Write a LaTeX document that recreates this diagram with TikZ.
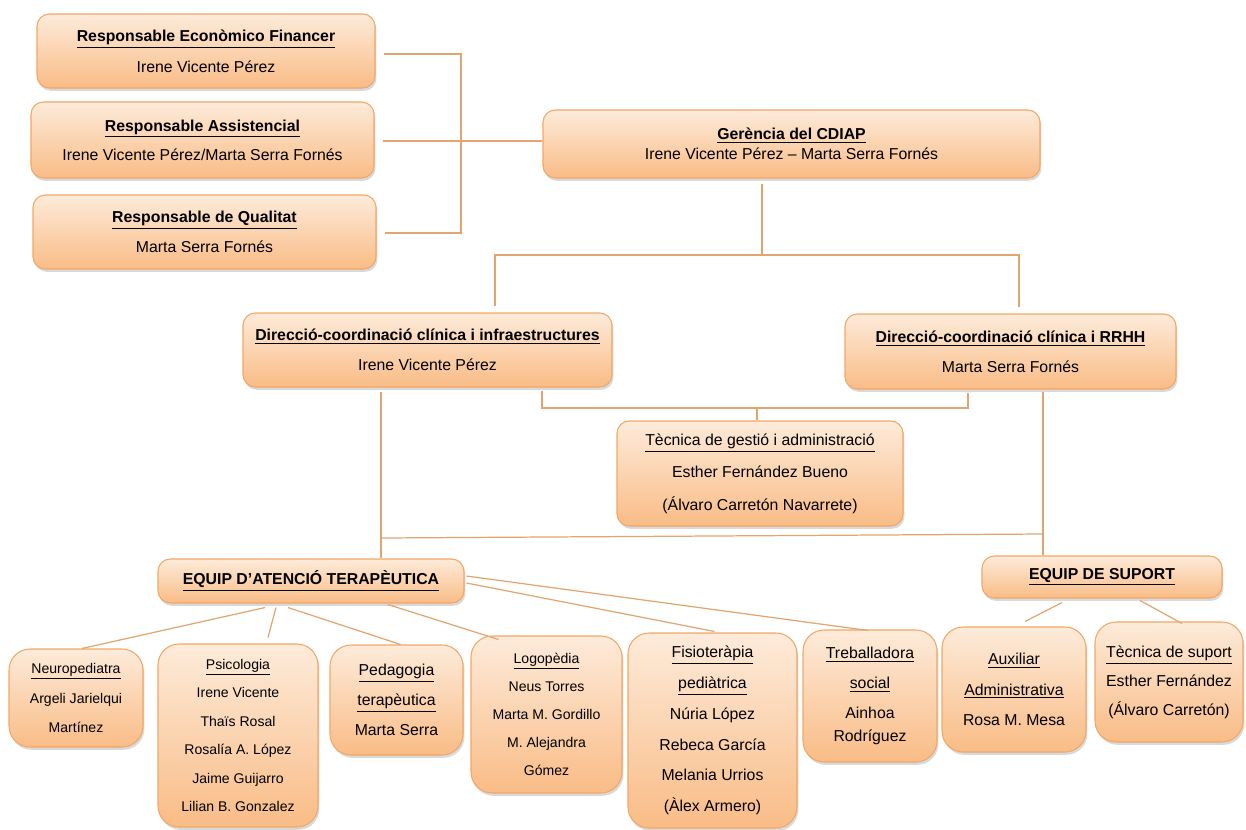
\documentclass[tikz,border=0pt]{standalone}
\usepackage{fontspec}
\setmainfont{Liberation Sans}
\usetikzlibrary{calc,shadows}
\definecolor{boxtop}{HTML}{FDEBDA}
\definecolor{boxbot}{HTML}{F9BC86}
\definecolor{boxline}{HTML}{F2A766}
\definecolor{linkcol}{HTML}{E2A570}
\newcommand{\hd}[1]{\underline{#1}}
\newcommand{\bhd}[1]{\textbf{\underline{#1}}}
\tikzset{
  orgbox/.style={draw=boxline, line width=0.6pt, top color=boxtop, bottom color=boxbot,
    rounded corners=7pt, align=center, inner sep=0pt,
    drop shadow={shadow xshift=0.8pt, shadow yshift=-1.6pt, opacity=0.3}},
  roundbox/.style={orgbox, rounded corners=12pt},
  wh/.style 2 args={minimum width=#1*0.02cm, minimum height=#2*0.02cm},
  big/.style={font=\fontsize{9}{17}\selectfont},
  small/.style={font=\fontsize{8}{16}\selectfont},
  link/.style={draw=linkcol, line width=0.7pt},
}
\begin{document}
\begin{tikzpicture}[x=0.02cm, y=-0.02cm]
            \useasboundingbox (0,0) rectangle (1246,829);
            % Responsables on the left
            \node [orgbox, wh={338}{74}, font=\fontsize{9}{17.6}\selectfont] (ResEco) at (206,51)
              {\bhd{Responsable Econòmico Financer}\\Irene Vicente Pérez};
            \node [orgbox, wh={343}{76}, font=\fontsize{9}{16.6}\selectfont] (ResAss) at (202.5,140)
              {\bhd{Responsable Assistencial}\\Irene Vicente Pérez/Marta Serra Fornés};
            \node [orgbox, wh={343}{74}, big] (ResQual) at (204.5,232)
              {\bhd{Responsable de Qualitat}\\Marta Serra Fornés};
            % Gerència and the two directions
            \node [orgbox, wh={497}{68}, font=\fontsize{9}{11.5}\selectfont] (Ger) at (791.5,144)
              {\bhd{Gerència del CDIAP}\\Irene Vicente Pérez – Marta Serra Fornés};
            \node [orgbox, wh={369}{74}, big] (DirInfra) at (427.5,350)
              {\bhd{Direcció-coordinació clínica i infraestructures}\\Irene Vicente Pérez};
            \node [orgbox, wh={331}{75}, big] (DirRRHH) at (1010.5,351.5)
              {\bhd{Direcció-coordinació clínica i RRHH}\\Marta Serra Fornés};
            \node [orgbox, wh={286}{105}, font=\fontsize{9}{18.5}\selectfont] (TecGest) at (760,473.5)
              {\hd{Tècnica de gestió i administració}\\Esther Fernández Bueno\\(Álvaro Carretón Navarrete)};
            % The two teams
            \node [orgbox, wh={306}{44}, big] (EqAT) at (311,581) {\bhd{EQUIP D’ATENCIÓ TERAPÈUTICA}};
            \node [orgbox, wh={240}{42}, big] (EqSup) at (1102,577) {\bhd{EQUIP DE SUPORT}};
            % Members of the teams
            \node [roundbox, wh={134}{98}, font=\fontsize{8}{17}\selectfont] (Neuro) at (76,698)
              {\hd{Neuropediatra}\\Argeli Jarielqui\\Martínez};
            \node [roundbox, wh={160}{183}, font=\fontsize{8}{16.2}\selectfont] (Psico) at (238,735.5)
              {\hd{Psicologia}\\Irene Vicente\\Thaïs Rosal\\Rosalía A. López\\Jaime Guijarro\\Lilian B. Gonzalez};
            \node [roundbox, wh={133}{110}, big] (Peda) at (396.5,700)
              {\hd{Pedagogia}\\\hd{terapèutica}\\Marta Serra};
            \node [roundbox, wh={151}{157}, small] (Logo) at (546.5,714.5)
              {\hd{Logopèdia}\\Neus Torres\\Marta M. Gordillo\\M. Alejandra\\Gómez};
            \node [roundbox, wh={169}{195}, font=\fontsize{9}{17.5}\selectfont] (Fisio) at (712.5,730.5)
              {\hd{Fisioteràpia}\\\hd{pediàtrica}\\Núria López\\Rebeca García\\Melania Urrios\\(Àlex Armero)};
            \node [roundbox, wh={134}{132}, big] (Treb) at (870,696)
              {\hd{Treballadora}\\\hd{social}\\Ainhoa\\[-4pt]Rodríguez};
            \node [roundbox, wh={144}{125}, font=\fontsize{9}{17.5}\selectfont] (Aux) at (1014,689.5)
              {\hd{Auxiliar}\\\hd{Administrativa}\\Rosa M. Mesa};
            \node [roundbox, wh={148}{120}, font=\fontsize{9}{16.5}\selectfont] (TecSup) at (1169,682)
              {\hd{Tècnica de suport}\\Esther Fernández\\(Álvaro Carretón)};

            % Junction points of the connectors
            \coordinate (brk) at (461,140);
            \coordinate (jtop) at (762,255);
            \coordinate (jl) at (495,255);
            \coordinate (jr) at (1019,255);
            \coordinate (jg) at (757,408);
            \coordinate (jgl) at (542,408);
            \coordinate (jgr) at (968,408);
            \coordinate (jal) at (381,538);
            \coordinate (jar) at (1043,534);

            % Bracket of the responsables
            \draw [link] ($(ResEco.east)+(8,3)$) -- ($(brk |- ResEco.east)+(0,3)$)
              -- ($(brk |- ResQual.east)+(0,1)$) -- ($(ResQual.east)+(8,1)$);
            \draw [link] ($(ResAss.east)+(8,1)$) -- ($(ResAss.east -| Ger.west)+(0,1)$);
            % Gerència down to the directions
            \draw [link] ($(jtop |- Ger.south)+(0,5)$) -- (jtop);
            \draw [link] ($(DirInfra.north -| jl)+(0,-6)$) -- (jl) -- (jr) -- ($(DirRRHH.north -| jr)+(0,-6)$);
            % Directions to Tècnica de gestió
            \draw [link] ($(DirInfra.south -| jgl)+(0,3)$) -- (jgl) -- (jgr) -- ($(DirRRHH.south -| jgr)+(0,3)$);
            \draw [link] (jg) -- (TecGest.north -| jg);
            % Directions to the teams
            \draw [link] ($(DirInfra.south -| jal)+(0,4)$) -- (EqAT.north -| jal);
            \draw [link] ($(DirRRHH.south -| jar)+(0,2)$) -- (EqSup.north -| jar);
            \draw [link] (jal) -- (jar);
            % Team members
            \draw [link] ($(EqAT.south)+(-46,4)$) -- ($(Neuro.north)+(6,0)$);
            \draw [link] ($(EqAT.south)+(-35,4)$) -- ($(Psico.north)+(30,-6)$);
            \draw [link] ($(EqAT.south)+(-23,4)$) -- ($(Peda.north)+(4,0)$);
            \draw [link] ($(EqAT.south)+(77,1)$) -- ($(Logo.north)+(-48,4)$);
            \draw [link] ($(EqAT.east)+(2,2)$) -- ($(Fisio.north)+(2,-1)$);
            \draw [link] ($(EqAT.east)+(2,-5)$) -- ($(Treb.north)+(-2,1)$);
            \draw [link] ($(EqSup.south)+(-40,4)$) -- ($(Aux.north)+(11,-5)$);
            \draw [link] ($(EqSup.south)+(38,2)$) -- ($(TecSup.north)+(13,2)$);
\end{tikzpicture}
\end{document}
